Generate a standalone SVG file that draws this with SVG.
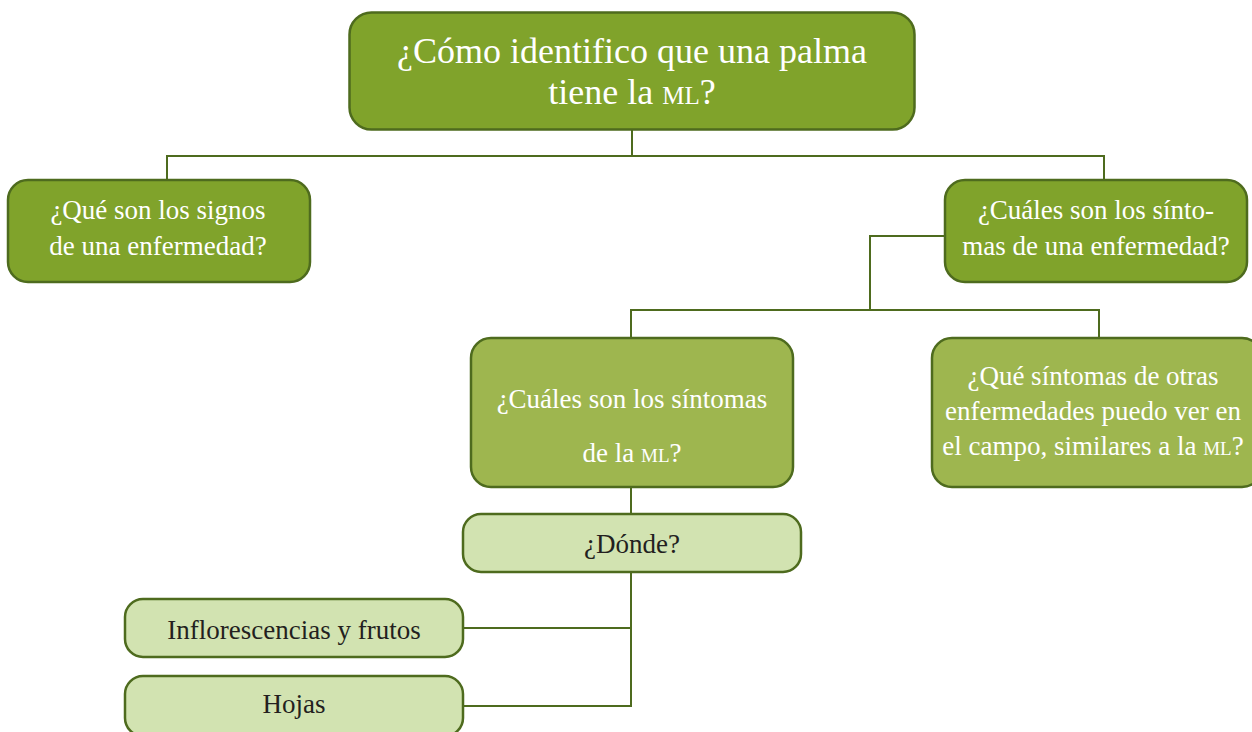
<svg xmlns="http://www.w3.org/2000/svg" width="1252" height="732" viewBox="0 0 1252 732">
<style>
.box{stroke:#4e6b1e;stroke-width:2.5}
.dark{fill:#80a32b}
.mid{fill:#9eb64f}
.light{fill:#d2e3b1}
.t{font-family:"Liberation Serif","DejaVu Serif",serif;text-anchor:middle;font-size:27px}
.big{font-size:36px}
.w{fill:#ffffff}
.k{fill:#231f20}
.sc{font-variant:small-caps}
.conn{fill:none;stroke:#4e6b1e;stroke-width:2}
</style>
<rect width="1252" height="732" fill="#ffffff"/>
<g id="connectors" class="conn">
<path d="M632 130V156M167 180V156H1104V180"/>
<path d="M945 236H870V310M631 339V310H1099V339"/>
<path d="M631 487V514"/>
<path d="M631 572V706H463M463 628H631"/>
</g>
<g id="n-root">
<rect class="box dark" x="349.5" y="12.5" width="565" height="117" rx="22"/>
<text class="t big w" x="632" y="63">¿Cómo identifico que una palma</text>
<text class="t big w" x="632" y="104">tiene la <tspan class="sc">ml</tspan>?</text>
</g>
<g id="n-signos">
<rect class="box dark" x="8" y="180" width="302" height="102" rx="20"/>
<text class="t w" x="158" y="219">¿Qué son los signos</text>
<text class="t w" x="158" y="255">de una enfermedad?</text>
</g>
<g id="n-sintomas">
<rect class="box dark" x="945" y="180" width="302" height="102" rx="20"/>
<text class="t w" x="1096" y="219">¿Cuáles son los sínto-</text>
<text class="t w" x="1096" y="255">mas de una enfermedad?</text>
</g>
<g id="n-sintomas-ml">
<rect class="box mid" x="471" y="338" width="322" height="149" rx="20"/>
<text class="t w" x="632" y="408">¿Cuáles son los síntomas</text>
<text class="t w" x="632" y="462">de la <tspan class="sc">ml</tspan>?</text>
</g>
<g id="n-otras">
<rect class="box mid" x="932" y="338" width="330" height="149" rx="20"/>
<text class="t w" x="1093" y="385">¿Qué síntomas de otras</text>
<text class="t w" x="1093" y="420">enfermedades puedo ver en</text>
<text class="t w" x="1093" y="455">el campo, similares a la <tspan class="sc">ml</tspan>?</text>
</g>
<g id="n-donde">
<rect class="box light" x="463" y="514" width="338" height="58" rx="18"/>
<text class="t k" x="632" y="553">¿Dónde?</text>
</g>
<g id="n-inflorescencias">
<rect class="box light" x="125" y="599" width="338" height="58" rx="18"/>
<text class="t k" x="294" y="639">Inflorescencias y frutos</text>
</g>
<g id="n-hojas">
<rect class="box light" x="125" y="676" width="338" height="60" rx="18"/>
<text class="t k" x="294" y="713">Hojas</text>
</g>
</svg>
